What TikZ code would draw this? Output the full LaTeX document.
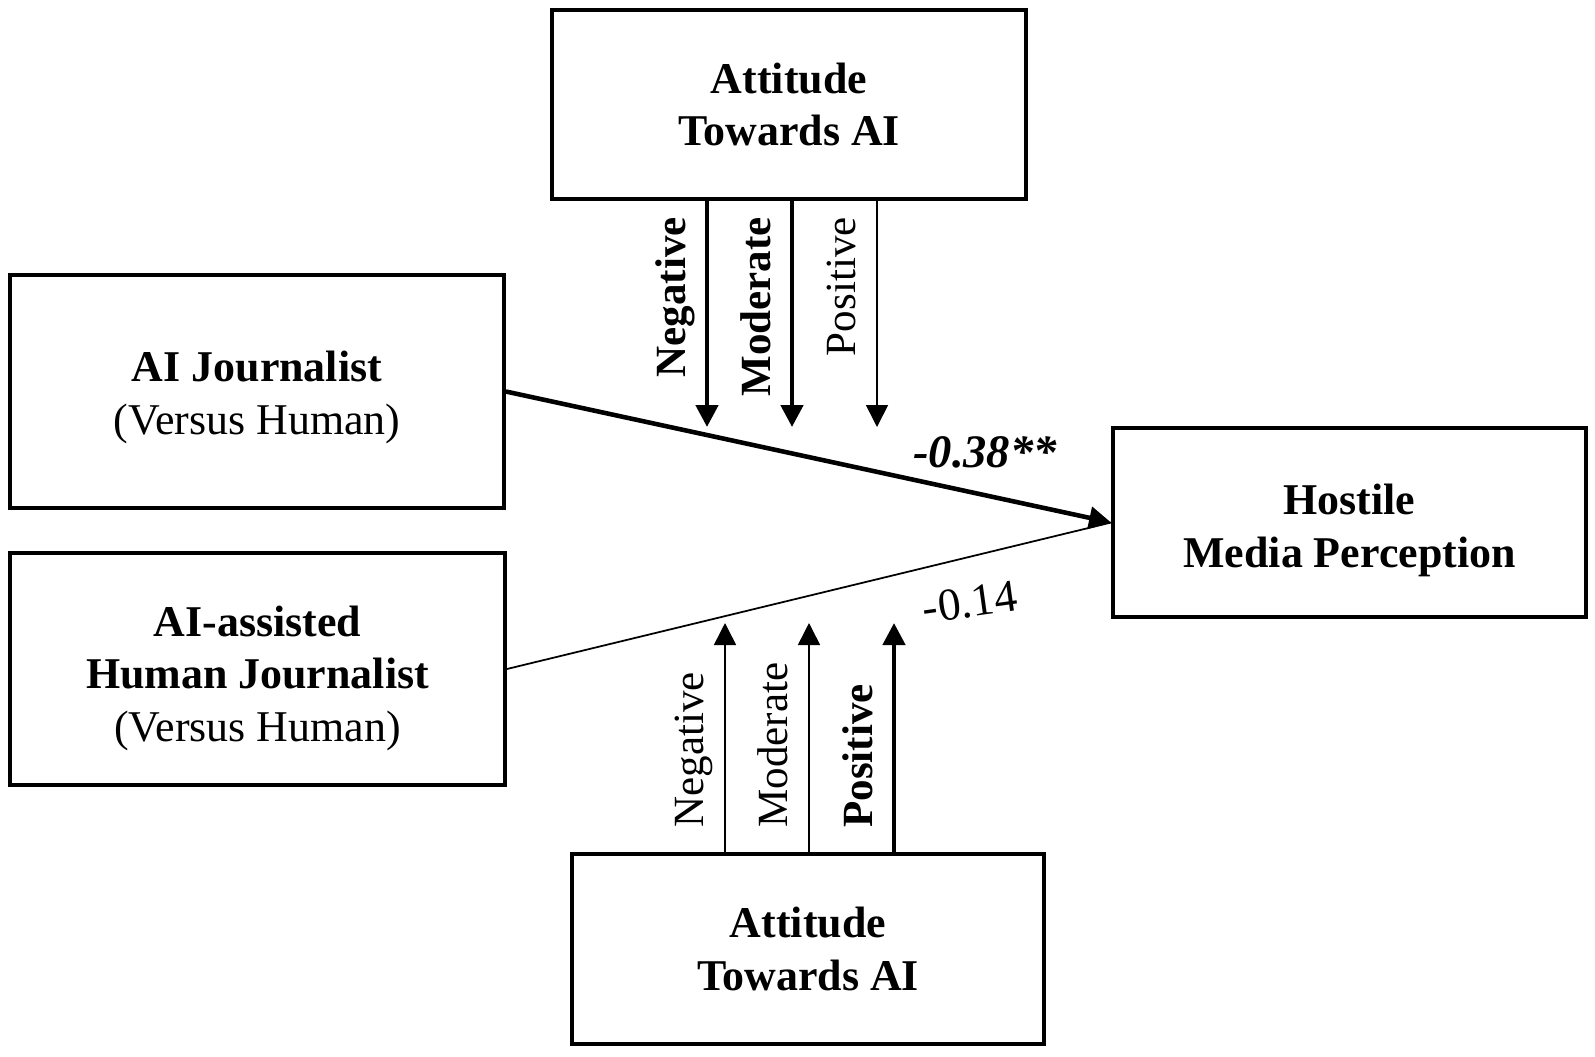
\documentclass[tikz,border=0pt]{standalone}
\usepackage{fontspec}
\setmainfont{Liberation Serif}
\usetikzlibrary{arrows.meta}
\begin{document}
\begin{tikzpicture} [x=0.02cm, y=-0.02cm,
  box/.style={draw, line width=2.2pt, inner sep=0pt, align=center,
    font=\fontsize{25}{30}\selectfont},
  strong/.style={-{Triangle[length=0.44cm,width=0.44cm]}, line width=2.6pt},
  weak/.style={-{Triangle[length=0.44cm,width=0.44cm]}, line width=0.9pt},
  level/.style={rotate=90, inner sep=0pt, font=\fontsize{24.5}{30}\selectfont}]
\useasboundingbox (0,0) rectangle (1595,1056);
% boxes
\node[box, minimum width=9.48cm, minimum height=3.78cm] (attTop) at (789,104.5) {\textbf{Attitude}\\\textbf{Towards AI}};
\node[box, minimum width=9.88cm, minimum height=4.66cm] (aiJ) at (257,391.5) {\rule{0pt}{24pt}\textbf{AI Journalist}\\(Versus Human)};
\node[box, minimum width=9.9cm, minimum height=4.64cm] (aiA) at (257.5,669) {\rule{0pt}{28pt}\textbf{AI-assisted}\\\textbf{Human Journalist}\\(Versus Human)};
\node[box, minimum width=9.46cm, minimum height=3.78cm] (hmp) at (1349.5,522.5) {\rule{0pt}{26pt}\textbf{Hostile}\\\textbf{Media Perception}};
\node[box, minimum width=9.44cm, minimum height=3.8cm] (attBot) at (808,949) {\textbf{Attitude}\\\textbf{Towards AI}};
% tips of the moderator arrows
\coordinate (tNeg) at (707,427);
\coordinate (tMod) at (792,427);
\coordinate (tPos) at (877,427);
\coordinate (bNeg) at (725,623);
\coordinate (bMod) at (809,623);
\coordinate (bPos) at (894,623);
% paths
\draw[strong] (aiJ.east) -- (hmp.west);
\draw[line width=1pt] (aiA.east) -- (hmp.west);
\node[font=\fontsize{26.5}{30}\selectfont\bfseries\itshape] (b1) at (985,452) {-0.38**};
\node[font=\fontsize{26}{30}\selectfont, rotate=8] (b2) at (970,602) {-0.14};
% moderator, top
\draw[strong] (attTop.south -| tNeg) -- (tNeg);
\draw[strong] (attTop.south -| tMod) -- (tMod);
\draw[weak] (attTop.south -| tPos) -- (tPos);
\node[level, anchor=base east] (lNegT) at (685,217) {\textbf{Negative}};
\node[level, anchor=base east] (lModT) at (770,217) {\textbf{Moderate}};
\node[level, anchor=base east] (lPosT) at (855,217) {Positive};
% moderator, bottom
\draw[weak] (attBot.north -| bNeg) -- (bNeg);
\draw[weak] (attBot.north -| bMod) -- (bMod);
\draw[strong] (attBot.north -| bPos) -- (bPos);
\node[level, anchor=base west] (lNegB) at (703,828) {Negative};
\node[level, anchor=base west] (lModB) at (787,828) {Moderate};
\node[level, anchor=base west] (lPosB) at (872,828) {\textbf{Positive}};
\end{tikzpicture}
\end{document}
